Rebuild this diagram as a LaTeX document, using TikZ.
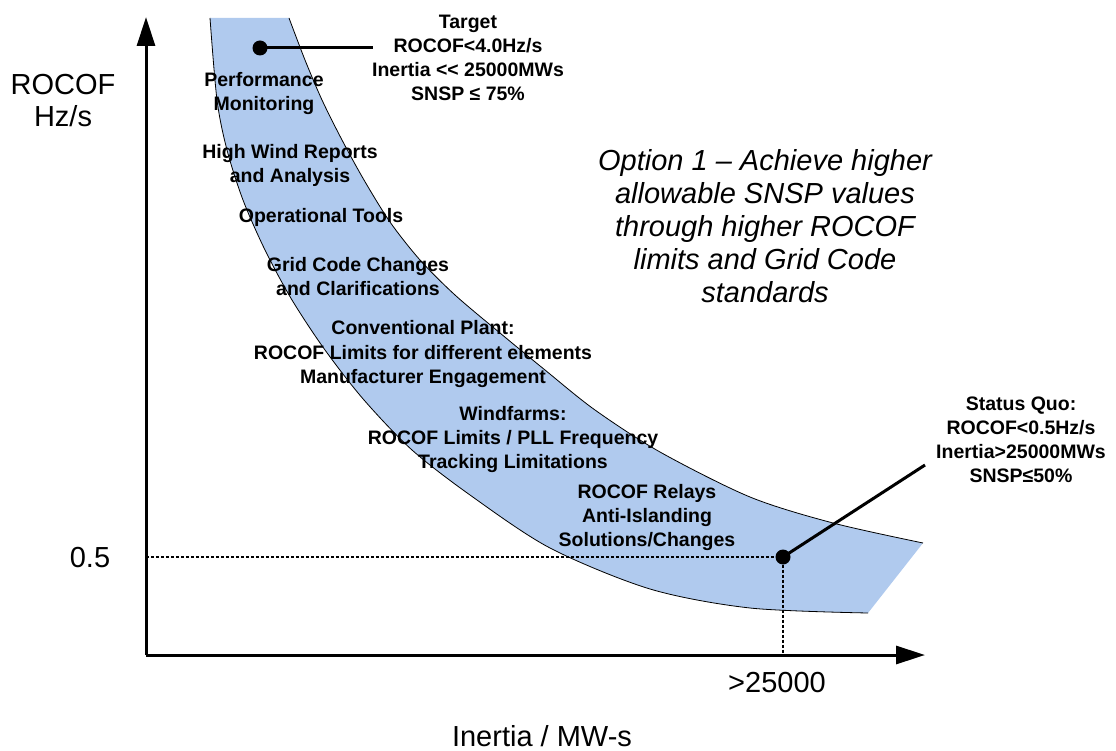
\documentclass[tikz,border=0pt]{standalone}
\usepackage{fontspec}
\setmainfont{Liberation Sans}
\usetikzlibrary{arrows.meta}

\definecolor{bandblue}{RGB}{176,202,238}

\tikzset{
  axisline/.style={line width=3pt, -{Triangle[length=29pt,width=18pt]}},
  guideline/.style={line width=1.4pt, dash pattern=on 3pt off 2pt},
  leader/.style={line width=3pt},
  marker/.style={circle, fill=black, inner sep=0pt, minimum size=15pt},
  bandedge/.style={line width=0.8pt},
  steplabel/.style={align=center, inner sep=0pt,
    font=\bfseries\fontsize{19.5}{24}\selectfont},
  axislabel/.style={align=center, inner sep=0pt,
    font=\fontsize{29}{32}\selectfont},
  optionlabel/.style={align=center, inner sep=0pt,
    font=\itshape\fontsize{29}{33}\selectfont},
}

\begin{document}
\begin{tikzpicture}[x=1pt,y=-1pt]
\useasboundingbox (0,0) rectangle (1116,751);

% shaded band between the two limit curves
\fill[bandblue]
  plot[smooth] coordinates {(210,18) (217,100) (227,150) (243,200) (265,250)
    (292,300) (325,350) (364,400) (412,450) (470,495) (550,548) (650,589)
    (750,608) (868,613)}
  -- (923,543)
  -- plot[smooth] coordinates {(923,543) (833,523) (750,497) (660,452)
    (595,410) (545,370) (500,333) (455,295) (420,260) (390,222) (364,180)
    (342,140) (322,100) (305,60) (289,18)}
  -- cycle;

\draw[bandedge]
  plot[smooth] coordinates {(210,18) (217,100) (227,150) (243,200) (265,250)
    (292,300) (325,350) (364,400) (412,450) (470,495) (550,548) (650,589)
    (750,608) (868,613)};
\draw[bandedge]
  plot[smooth] coordinates {(289,18) (305,60) (322,100) (342,140) (364,180)
    (390,222) (420,260) (455,295) (500,333) (545,370) (595,410) (660,452)
    (750,497) (833,523) (923,543)};

% axes
\coordinate (origin) at (146,655);
\coordinate (ytip) at (146,17);
\coordinate (xtip) at (925,655);
\draw[axisline] (origin) -- (ytip);
\draw[axisline] (origin) -- (xtip);

% status quo point with guides to the axes
\node[marker] (sqdot) at (783,557) {};
\coordinate (yguide) at (146,557);
\coordinate (xguide) at (783,655);
\draw[guideline] (yguide) -- (sqdot);
\draw[guideline] (sqdot) -- (xguide);
\coordinate (sqend) at (925,465);
\draw[leader] (sqdot.center) -- (sqend);

% target point
\node[marker] (tdot) at (260,48) {};
\coordinate (tend) at (373,48);
\draw[leader] (tdot.center) -- (tend);

% axis labels
\node[axislabel] (ylab) at (63,101) {ROCOF\\Hz/s};
\node[axislabel] (yval) at (90,558) {0.5};
\node[axislabel] (xval) at (777,683) {>25000};
\node[axislabel] (xlab) at (542,736) {Inertia / MW-s};

% callouts
\node[steplabel] (target) at (468,57.5)
  {Target\\ROCOF<4.0Hz/s\\Inertia <{}< 25000MWs\\SNSP ≤ 75\%};
\node[steplabel] (statusquo) at (1021,440)
  {Status Quo:\\ROCOF<0.5Hz/s\\Inertia>25000MWs\\SNSP≤50\%};

% measures along the band
\node[steplabel] (perf) at (264,94) {Performance\\Monitoring};
\node[steplabel] (wind) at (290,165) {High Wind Reports\\and Analysis};
\node[steplabel] (tools) at (321,217) {Operational Tools};
\node[steplabel] (grid) at (358,276.5) {Grid Code Changes\\and Clarifications};
\node[steplabel] (conv) at (423,354)
  {Conventional Plant:\\ROCOF Limits for different elements\\Manufacturer Engagement};
\node[steplabel] (farms) at (513,439)
  {Windfarms:\\ROCOF Limits / PLL Frequency\\Tracking Limitations};
\node[steplabel] (relays) at (647,517)
  {ROCOF Relays\\Anti-Islanding\\Solutions/Changes};

% option statement
\node[optionlabel] (option) at (765,226)
  {Option 1 – Achieve higher\\allowable SNSP values\\through higher ROCOF\\limits and Grid Code\\standards};
\end{tikzpicture}
\end{document}
